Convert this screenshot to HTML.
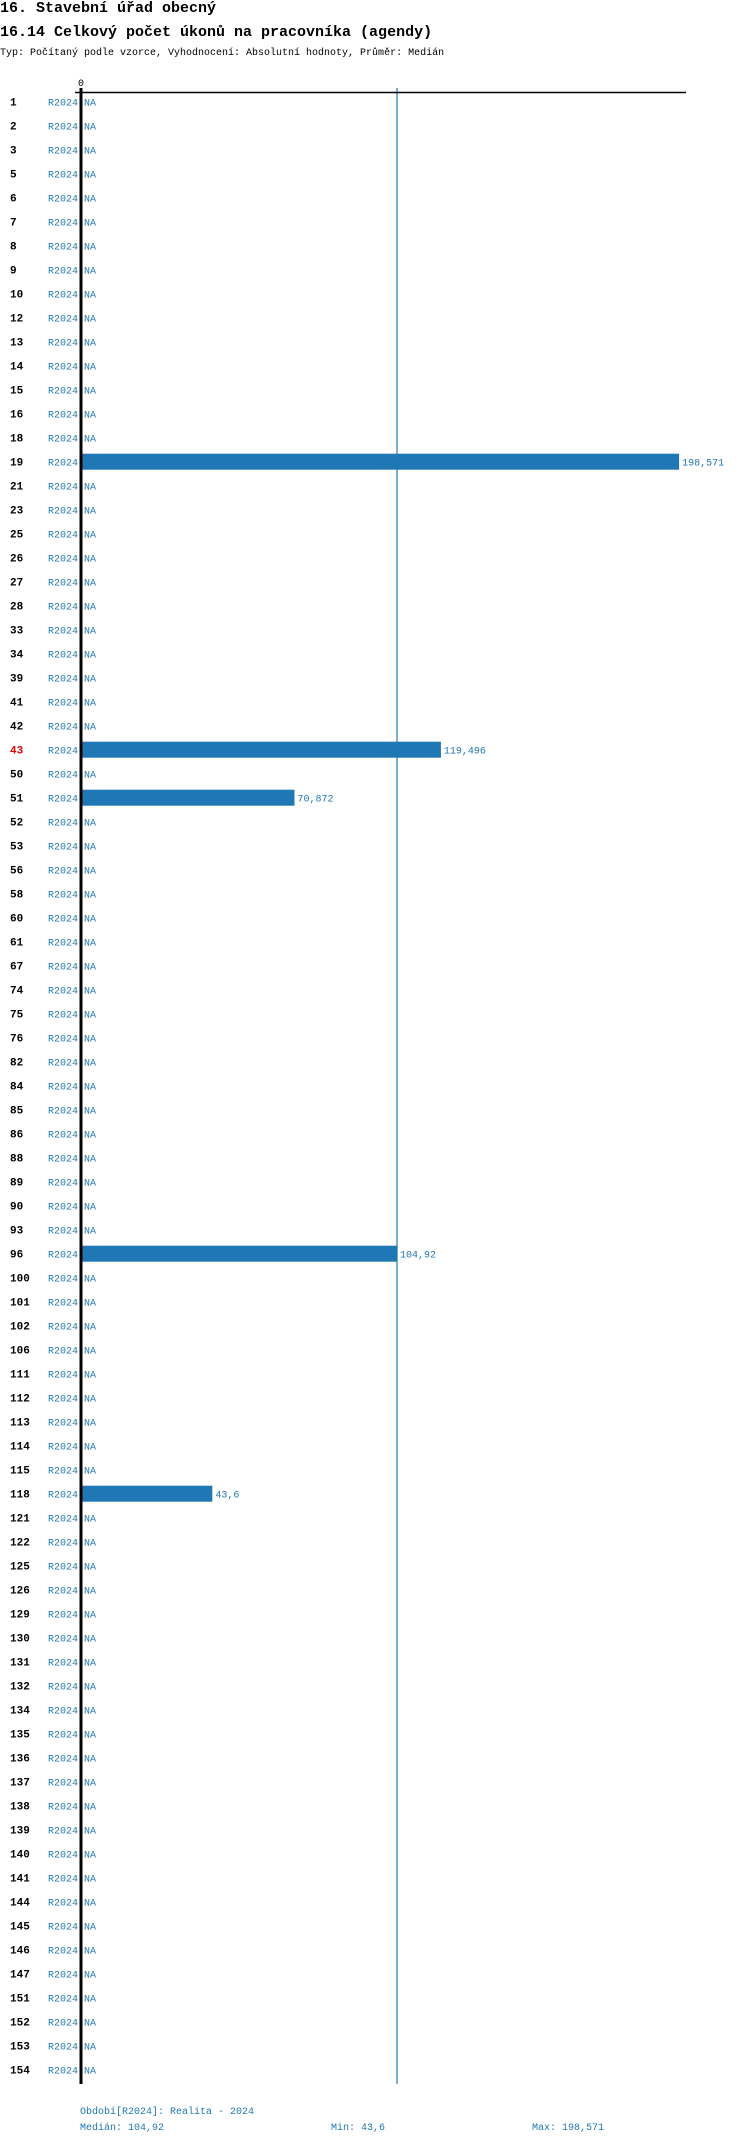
<!DOCTYPE html>
<html><head><meta charset="utf-8"><style>
body{margin:0;background:#fff;}
svg{display:block;font-family:"Liberation Mono","DejaVu Sans Mono",monospace;}
</style></head><body>
<svg width="750" height="2144" viewBox="0 0 750 2144" xmlns="http://www.w3.org/2000/svg">
<text x="0" y="12" font-size="15" font-weight="bold" fill="#000">16. Stavební úřad obecný</text>
<text x="0" y="36" font-size="15" font-weight="bold" fill="#000">16.14 Celkový počet úkonů na pracovníka (agendy)</text>
<text x="0" y="55" font-size="10" fill="#000">Typ: Počítaný podle vzorce, Vyhodnocení: Absolutní hodnoty, Průměr: Medián</text>
<g id="plot"></g>
<text x="80" y="2114" font-size="10" fill="#1f77b4">Období[R2024]: Realita - 2024</text>
<text x="80" y="2130" font-size="10" fill="#1f77b4">Medián: 104,92</text>
<text x="331" y="2130" font-size="10" fill="#1f77b4">Min: 43,6</text>
<text x="532" y="2130" font-size="10" fill="#1f77b4">Max: 198,571</text>
</svg>
<script>
const categories=[1,2,3,5,6,7,8,9,10,12,13,14,15,16,18,19,21,23,25,26,27,28,33,34,39,41,42,43,50,51,52,53,56,58,60,61,67,74,75,76,82,84,85,86,88,89,90,93,96,100,101,102,106,111,112,113,114,115,118,121,122,125,126,129,130,131,132,134,135,136,137,138,139,140,141,144,145,146,147,151,152,153,154];
const values={19:198.571,43:119.496,51:70.872,96:104.92,118:43.6};
const valueLabels={19:"198,571",43:"119,496",51:"70,872",96:"104,92",118:"43,6"};
const highlighted=[43];
const medianValue=104.92;
const NS="http://www.w3.org/2000/svg";
const g=document.getElementById('plot');
const x0=81,scale=3.012,y0=101.7,pitch=24;
const xs=v=>x0+v*scale;
const ys=i=>y0+i*pitch;
function mk(t,a){const e=document.createElementNS(NS,t);for(const k in a)e.setAttribute(k,a[k]);g.appendChild(e);return e;}
categories.forEach((c,i)=>{
  const y=ys(i);
  let t=mk('text',{x:10,y:y+4,'font-size':11,'font-weight':'bold',fill:highlighted.includes(c)?'#e00':'#000'});
  t.textContent=c;
  
  
  t=mk('text',{x:78,y:y+4,'font-size':10,fill:'#1f77b4','text-anchor':'end'});
  t.textContent='R2024';
  
  
  if(values[c]!==undefined){
    const r=mk('rect',{x:x0,y:y-8,width:xs(values[c])-x0,height:16,fill:'#1f77b4'});
    
    
    t=mk('text',{x:xs(values[c])+3,y:y+4,'font-size':10,fill:'#1f77b4'});
    t.textContent=valueLabels[c];
    
    
  }else{
    t=mk('text',{x:84,y:y+4,'font-size':10,fill:'#1f77b4'});
    t.textContent='NA';
    
    
  }
});
let e=mk('line',{x1:xs(medianValue),x2:xs(medianValue),y1:88,y2:2084,stroke:'#1f77b4','stroke-width':1.2});


e=mk('line',{x1:75,x2:686,y1:92.5,y2:92.5,stroke:'#000','stroke-width':1.5});


e=mk('line',{x1:x0,x2:x0,y1:88,y2:2084,stroke:'#000','stroke-width':3});


e=mk('text',{x:x0,y:86,'font-size':10,fill:'#000','text-anchor':'middle'});
e.textContent='0';


</script>
</body></html>
